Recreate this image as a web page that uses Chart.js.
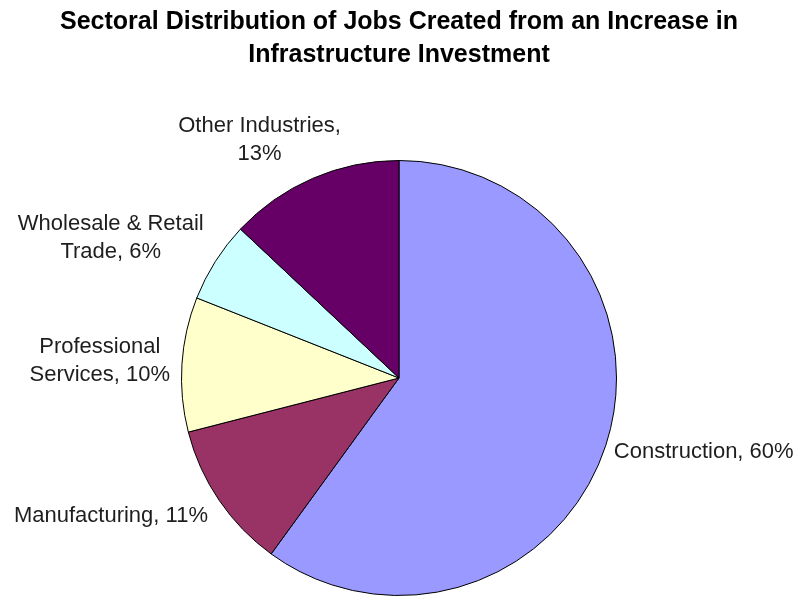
<!DOCTYPE html>
<html>
<head>
<meta charset="utf-8">
<script src="https://cdn.jsdelivr.net/npm/chart.js@4.4.0/dist/chart.umd.min.js"></script>
<style>
  html, body { margin: 0; padding: 0; background: #fff; }
  .chartBox { width: 798px; height: 597px; }
</style>
</head>
<body>
<div class="chartBox"><canvas id="myChart"></canvas></div>
<script>
const sectors = ['Construction', 'Manufacturing', 'Professional Services', 'Wholesale & Retail Trade', 'Other Industries'];
const shares = [60, 11, 10, 6, 13];
const sliceColors = ['#9999ff', '#993366', '#ffffcc', '#ccffff', '#660066'];
const titleLines = ['Sectoral Distribution of Jobs Created from an Increase in', 'Infrastructure Investment'];

// words kept on the first line of each slice label (0 = single line)
const firstLineWords = [0, 0, 1, 3, 2];
// hand nudges for the outside labels, in px
const labelNudge = [[1, -1], [-18, 1], [0, -1], [-16, -2], [-16, -2]];

const labelFont = '22px "Liberation Sans", Arial, sans-serif';
const labelLineHeight = 28;

function labelLines(i) {
  const words = `${sectors[i]}, ${shares[i]}%`.split(' ');
  const n = firstLineWords[i];
  if (!n) return [words.join(' ')];
  return [words.slice(0, n).join(' '), words.slice(n).join(' ')];
}

// slice labels sitting just outside the pie
const outsideLabels = {
  id: 'outsideLabels',
  afterDatasetsDraw(chart) {
    const ctx = chart.ctx;
    const meta = chart.getDatasetMeta(0);
    ctx.save();
    ctx.font = labelFont;
    ctx.fillStyle = '#1e1e1e';
    ctx.textAlign = 'center';
    ctx.textBaseline = 'middle';
    meta.data.forEach((arc, i) => {
      const { x, y, startAngle, endAngle, outerRadius } =
        arc.getProps(['x', 'y', 'startAngle', 'endAngle', 'outerRadius'], true);
      const mid = (startAngle + endAngle) / 2;
      const dx = Math.cos(mid), dy = Math.sin(mid);
      const ax = x + dx * (outerRadius + 12);
      const ay = y + dy * (outerRadius + 12);
      const lines = labelLines(i);
      const w = Math.max(...lines.map(l => ctx.measureText(l).width));
      const h = lines.length * labelLineHeight;
      const cx = ax + dx * w / 2 + labelNudge[i][0];
      const cy = ay + dy * h / 2 + labelNudge[i][1];
      lines.forEach((line, k) => {
        ctx.fillText(line, cx, cy - h / 2 + labelLineHeight * (k + 0.5));
      });
    });
    ctx.restore();
  }
};

const config = {
  type: 'pie',
  data: {
    labels: sectors,
    datasets: [{
      data: shares,
      backgroundColor: sliceColors,
      borderColor: '#000',
      borderWidth: 1,
      offset: 0,
      hoverOffset: 0
    }]
  },
  options: {
    responsive: true,
    maintainAspectRatio: false,
    animation: false,
    layout: { padding: { top: 0, bottom: 1, left: 0, right: 0 } },
    plugins: {
      legend: { display: false },
      tooltip: { enabled: false },
      title: {
        display: true,
        text: titleLines,
        color: '#000',
        font: { family: '"Liberation Sans", Arial, sans-serif', size: 25, weight: 'bold', lineHeight: 1.32 },
        padding: { top: 5.5, bottom: 88.5 }
      }
    }
  },
  plugins: [outsideLabels]
};

const myChart = new Chart(document.getElementById('myChart'), config);
</script>
</body>
</html>
